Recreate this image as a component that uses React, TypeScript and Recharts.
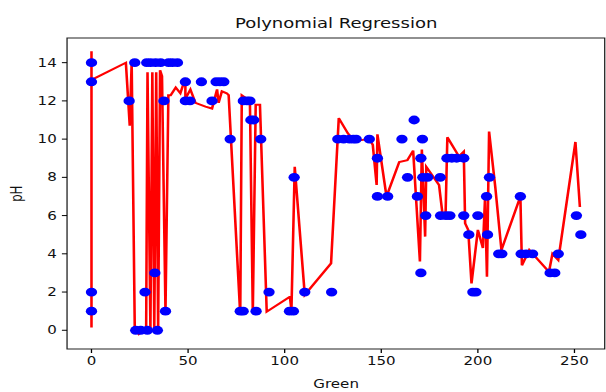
import { ComposedChart, Line, ReferenceArea, Scatter, XAxis, YAxis } from 'recharts'

// measured (green, pH) samples
const sampleGreen = [
  0, 0, 0, 0, 19.5, 22.4, 28.6, 30.6, 33.2, 35.8, 39.9, 41.9, 44.5, 37.5,
  48.6, 48.6, 51, 56.9, 64.5, 66.5, 68.5, 62.4, 78.6, 80.5, 82, 82.5, 84,
  71.8, 87.6, 104.9, 91.9, 110.4, 124.3, 77, 78.5, 85.2, 102.5, 104.5,
  32.8, 27.7, 38.3, 22.9, 25.5, 28.9, 34.1,
  127.5, 130.5, 133.6, 135.5, 137, 143.8, 160.7, 171.3,
  148, 170.5, 184, 186.5, 189, 192.7,
  148, 153.3, 168.7, 204.5, 222, 167,
  163.6, 171.5, 174, 180.5, 206,
  173, 180.7, 183.5, 185.5, 192.7, 200, 251,
  195.3, 205, 253.3,
  210.8, 212.4, 222.4, 225, 228.3, 241.6,
  170.5, 237.4, 239.8, 197.4, 199,
]
const samplePh = [
  14, 13, 2, 1, 12, 14, 14, 14, 14, 14, 14, 14, 14, 12,
  13, 12, 12, 13, 13, 13, 13, 12, 12, 12, 12, 11, 11,
  10, 10, 8, 2, 2, 2, 1, 1, 1, 1, 1,
  3, 2, 1, 0, 0, 0, 0,
  10, 10, 10, 10, 10, 10, 10, 10,
  9, 9, 9, 9, 9, 9,
  7, 7, 7, 7, 7, 11,
  8, 8, 8, 8, 8,
  6, 6, 6, 6, 6, 6, 6,
  5, 5, 5,
  4, 4, 4, 4, 4, 4,
  3, 3, 3, 2, 2,
]

// predicted pH, in the (unsorted) order it was plotted
const fitGreen = [
  0, 0, 0, 17.8, 19.8, 20.8, 22.4, 24.5, 28.3, 29, 30.5, 31.5, 32.5, 33.5, 34.5,
  35.5, 36.5, 38.3, 39.8, 41, 43.6, 46, 48.6, 48.6, 51.2, 53.8, 59, 62.4, 65,
  65.8, 67.5, 70, 71, 77, 77.8, 82, 83.5, 85, 87.2, 90.7, 102.7, 103.5, 105.2,
  110.4, 124, 128, 132.7, 136, 143.8, 145.6, 147.6, 148, 152.7, 159.3, 163.5,
  166.5, 170, 171, 172.7, 173.3, 179.9, 181.6, 183.3, 184.2, 190.2, 192.7,
  193.4, 195, 196.7, 200, 202.6, 203.7, 204.7, 205.8, 209, 212.2, 222, 222.8,
  226.6, 236.8, 238.6, 241.6, 250.5, 252.8,
]
const fitPh = [
  0.15, 14.6, 13.1, 14.0, 10.7, 14.0, 0.1, -0.2, 0.1, 13.5, 0.0, 13.5, 0.0, 13.5, 0.0,
  13.6, 13.3, 1.0, 12.3, 12.3, 12.7, 12.4, 13.2, 12.1, 12.6, 11.9, 11.7, 11.6, 12.6,
  11.9, 12.5, 12.4, 12.3, 0.8, 12.3, 12.0, 0.9, 11.8, 11.8, 0.97, 1.75, 1.06, 8.55,
  1.85, 3.5, 11.1, 10.3, 9.9, 10.0, 9.7, 7.6, 10.25, 7.0, 8.8, 8.9,
  9.4, 3.6, 9.45, 4.9, 8.55, 7.6, 6.15, 6.15, 10.1, 9.1, 9.35,
  5.6, 5.25, 2.45, 5.25, 4.3, 6.9, 2.8, 10.4, 7.5, 4.2, 7.0, 3.4,
  4.2, 3.06, 4.0, 3.67, 9.85, 6.45,
]

const xTicks = [0, 50, 100, 150, 200, 250]
const yTicks = [0, 2, 4, 6, 8, 10, 12, 14]
const xDomain = [-12.65, 265.65]
const yDomain = [-0.98, 15.29]

const samples = sampleGreen.map((g, i) => ({ g, ph: samplePh[i] }))
const fit = fitGreen.map((g, i) => ({ g, ph: fitPh[i] }))

// the reference is stretched sideways, so draw narrow and scale the whole thing
const W = 470
const H = 392
const STRETCH = 606 / W
const FONT = 'DejaVu Sans'
const tickStyle = { fill: '#111', fontSize: 11.7, fontFamily: FONT }

function Dot(props: { cx?: number; cy?: number }) {
  if (props.cx == null || props.cy == null) return null
  return <circle cx={props.cx} cy={props.cy} r={4.4} fill="#0000ff" />
}

export default function App() {
  return (
    <div
      style={{
        position: 'absolute', left: 0, top: 0, width: W, height: H,
        transform: `scaleX(${STRETCH})`, transformOrigin: '0 0', background: '#fff',
      }}
    >
      <ComposedChart width={W} height={H} margin={{ top: 38, right: 1, bottom: 0, left: 0 }}>
        <XAxis
          type="number" dataKey="g" domain={xDomain} ticks={xTicks} allowDataOverflow
          axisLine={false} tickSize={4} tickMargin={4} height={43}
          tickLine={{ stroke: '#000' }} tick={tickStyle}
        />
        <YAxis
          type="number" dataKey="ph" domain={yDomain} ticks={yTicks} allowDataOverflow
          axisLine={false} tickSize={4} tickMargin={4} width={52}
          tickLine={{ stroke: '#000' }} tick={tickStyle}
        />
        <Scatter data={samples} shape={<Dot />} isAnimationActive={false} />
        <Line
          data={fit} dataKey="ph" type="linear" stroke="#ff0000" strokeWidth={2}
          dot={false} activeDot={false} isAnimationActive={false}
        />
        <ReferenceArea
          x1={xDomain[0]} x2={xDomain[1]} y1={yDomain[0]} y2={yDomain[1]}
          fill="none" stroke="#222" strokeWidth={1} strokeOpacity={1}
        />
      </ComposedChart>
      <svg width={W} height={H} style={{ position: 'absolute', left: 0, top: 0, pointerEvents: 'none' }}>
        <text x={260.7} y={28} textAnchor="middle" fontSize={14} fontFamily={FONT} fill="#111">
          Polynomial Regression
        </text>
        <text x={260.7} y={388} textAnchor="middle" fontSize={11.7} fontFamily={FONT} fill="#111">
          Green
        </text>
        <text
          x={12.4} y={193.7} textAnchor="middle" dominantBaseline="central"
          transform="rotate(-90 12.4 193.7)" fontSize={11.7} fontFamily={FONT} fill="#111"
        >
          pH
        </text>
      </svg>
    </div>
  )
}
